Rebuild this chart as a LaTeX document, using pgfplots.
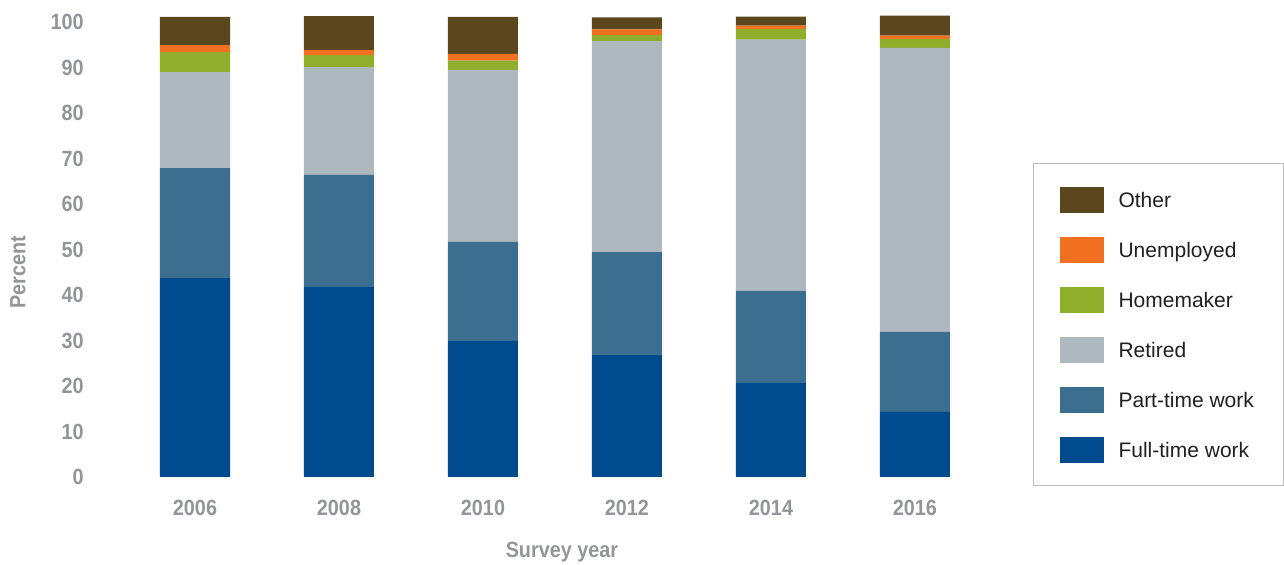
\documentclass[border=0pt]{standalone}
\usepackage{pgfplots}
\pgfplotsset{compat=1.18}
\usepackage{pgfplotstable}
\usepackage{fontspec}
\setmainfont{Liberation Sans}
\newfontfamily\condfont{Liberation Sans}[FakeStretch=0.9]
\definecolor{cother}{HTML}{5B471D}
\definecolor{cunemp}{HTML}{F37021}
\definecolor{chome}{HTML}{8FAE2B}
\definecolor{cret}{HTML}{AEB8BF}
\definecolor{cpart}{HTML}{3C6E8F}
\definecolor{cfull}{HTML}{004B8D}
\definecolor{ticktext}{HTML}{939598}
\definecolor{legtext}{HTML}{231F20}
\definecolor{legbox}{HTML}{BDBDBD}
\pgfplotstableread{
x full part retired home unemp other
0 43.7 24.2 21.1 4.4 1.5 6.2
1 41.8 24.6 23.7 2.6 1.1 7.5
2 29.9 21.8 37.8 2.0 1.5 8.1
3 26.8 22.6 46.4 1.3 1.3 2.6
4 20.7 20.2 55.2 2.4 0.7 2.0
5 14.3 17.6 62.4 2.0 0.7 4.4
}\datatable
\begin{document}
\begin{tikzpicture}
\useasboundingbox (0,0) rectangle (642pt,282.5pt);
\begin{axis}[
  at={(61.5pt,44pt)}, anchor=south west,
  scale only axis, width=432pt, height=238.875pt,
  xmin=-0.5, xmax=5.5, ymin=0, ymax=105,
  ybar stacked, bar width=35pt,
  axis line style={draw=none}, tick style={draw=none},
  major tick length=0pt,
  xtick={0,1,2,3,4,5},
  xticklabels={2006,2008,2010,2012,2014,2016},
  ytick={0,10,...,100},
  ticklabel style={font=\condfont\fontsize{11}{12}\selectfont\bfseries, text=ticktext},
  /pgf/number format/assume math mode=true,
  xticklabel style={anchor=base, inner sep=0pt, yshift=-19.5pt},
  yticklabel style={anchor=east, inner sep=0pt, xshift=-19.5pt},
  ylabel={Percent},
  xlabel={Survey year},
  every axis y label/.style={at={(axis description cs:-0.1215,0.429)}, rotate=90, anchor=center,
    font=\condfont\fontsize{11}{12}\selectfont\bfseries, text=ticktext},
  every axis x label/.style={at={(axis description cs:0.508,-0.157)}, anchor=center,
    font=\condfont\fontsize{11}{12}\selectfont\bfseries, text=ticktext},
  reverse legend,
  legend image code/.code={\fill[#1] (0pt,-2.75pt) rectangle (22pt,10.25pt);},
  legend style={at={(axis description cs:1.0532,0.6568)}, anchor=north west,
    draw=legbox, line width=0.6pt, fill=white,
    inner xsep=13pt, inner ysep=11.5pt, row sep=12pt,
    font=\fontsize{10.5}{12}\selectfont, text=legtext,
    nodes={inner sep=0pt, anchor=base west},
    /tikz/every odd column/.append style={column sep=7.5pt}},
  legend cell align=left,
]
\addplot[fill=cfull, draw=none] table[x=x, y=full] {\datatable};
\addlegendentry{\makebox[69.5pt][l]{Full-time work}}
\addplot[fill=cpart, draw=none] table[x=x, y=part] {\datatable};
\addlegendentry{\makebox[69.5pt][l]{Part-time work}}
\addplot[fill=cret, draw=none] table[x=x, y=retired] {\datatable};
\addlegendentry{\makebox[69.5pt][l]{Retired}}
\addplot[fill=chome, draw=none] table[x=x, y=home] {\datatable};
\addlegendentry{\makebox[69.5pt][l]{Homemaker}}
\addplot[fill=cunemp, draw=none] table[x=x, y=unemp] {\datatable};
\addlegendentry{\makebox[69.5pt][l]{Unemployed}}
\addplot[fill=cother, draw=none] table[x=x, y=other] {\datatable};
\addlegendentry{\makebox[69.5pt][l]{Other}}
\end{axis}
\end{tikzpicture}
\end{document}
